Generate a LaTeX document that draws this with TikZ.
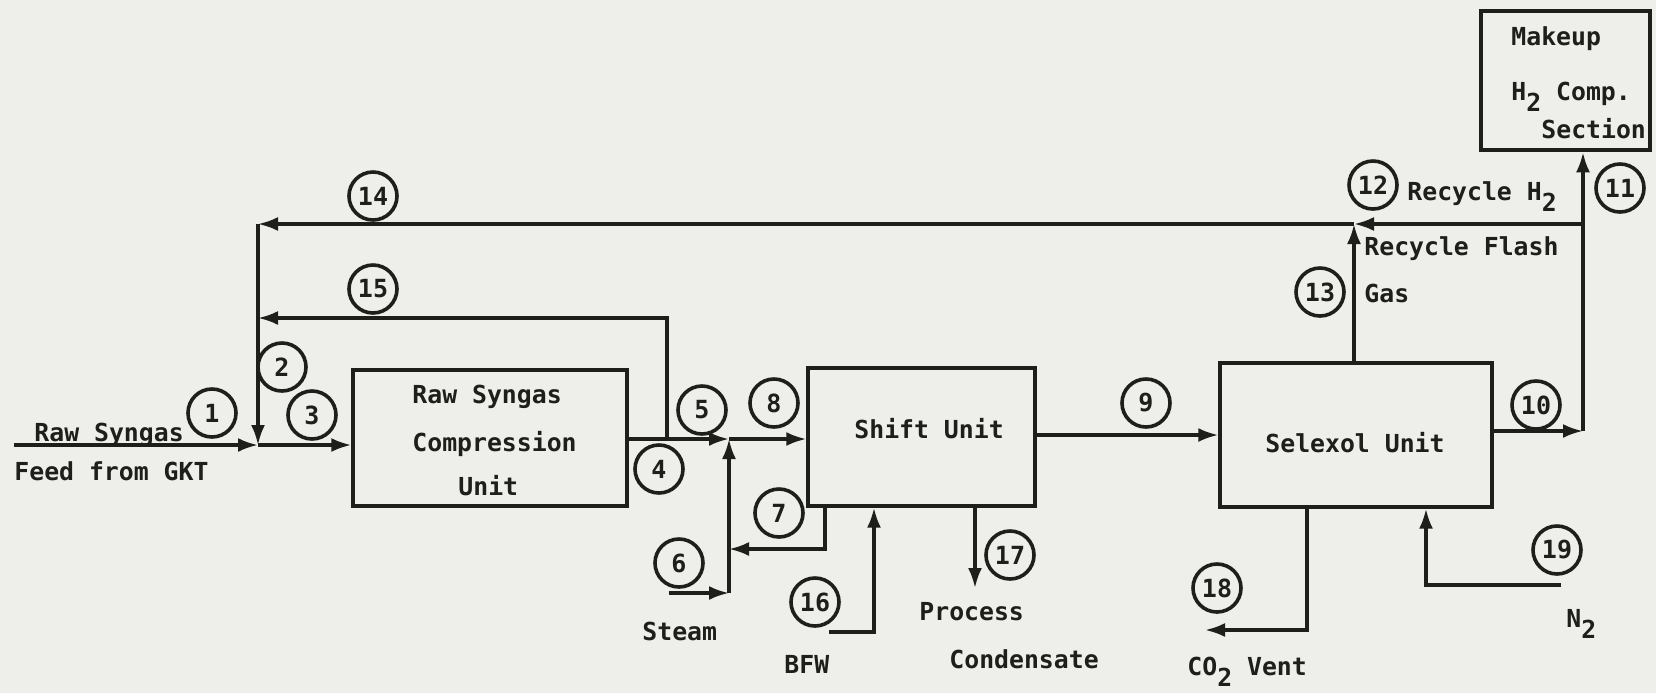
\documentclass[tikz,border=0pt]{standalone}
\usepackage{fontspec}
\newfontfamily\tw{DejaVu Sans Mono}[BoldFont={DejaVu Sans Mono Bold}]
\usetikzlibrary{arrows.meta}
\definecolor{ink}{RGB}{30,30,26}
\definecolor{paper}{RGB}{238,238,234}
\newcommand{\lowtwo}{\raisebox{-5.5pt}{2}}
\tikzset{
  line/.style={draw=ink, line width=1.6pt},
  flow/.style={line, -{Latex[length=10pt,width=7pt]}},
  unitbox/.style={draw=ink, line width=1.7pt, rectangle, inner sep=0pt},
  tag/.style={draw=ink, line width=1.8pt, circle, minimum size=24pt, inner sep=0pt, text=ink, font=\tw\bfseries\fontsize{12.5}{14}\selectfont},
  lbl/.style={anchor=base west, inner sep=0pt, text=ink, font=\tw\bfseries\fontsize{12.4}{14}\selectfont}
}
\begin{document}
\begin{tikzpicture}[x=0.5pt,y=-0.5pt]
\fill[paper] (0,0) rectangle (1656,693);
\useasboundingbox (0,0) rectangle (1656,693);

% unit boxes
\node[unitbox, minimum width=137pt, minimum height=68pt] (comp) at (490,438) {};
\node[unitbox, minimum width=113.5pt, minimum height=69pt] (shift) at (921.5,437) {};
\node[unitbox, minimum width=136pt, minimum height=72pt] (sel) at (1356,435) {};
\node[unitbox, line width=2.3pt, minimum width=84.5pt, minimum height=69.5pt] (makeup) at (1565.5,80.5) {};

% box texts
\node[lbl] (t1) at (412,403) {Raw Syngas};
\node[lbl] (t2) at (412,451) {Compression};
\node[lbl] (t3) at (458,495) {Unit};
\node[lbl] (t4) at (854,438) {Shift Unit};
\node[lbl] (t5) at (1265,452) {Selexol Unit};
\node[lbl] (t6) at (1511,45) {Makeup};
\node[lbl] (t7) at (1511,100) {H\lowtwo{} Comp.};
\node[lbl] (t8) at (1541,138) {Section};

% stream texts
\node[lbl] (s1a) at (34,441) {Raw Syngas};
\node[lbl] (s1b) at (14,480) {Feed from GKT};
\node[lbl] (s6t) at (642,640) {Steam};
\node[lbl] (s16t) at (784,673) {BFW};
\node[lbl] (s17a) at (919,620) {Process};
\node[lbl] (s17b) at (949,668) {Condensate};
\node[lbl] (s18t) at (1187,675) {CO\lowtwo{} Vent};
\node[lbl] (s19t) at (1566,627) {N\lowtwo};
\node[lbl] (s12t) at (1407,200) {Recycle H\lowtwo};
\node[lbl] (s13a) at (1364,255) {Recycle Flash};
\node[lbl] (s13b) at (1364,302) {Gas};

% coordinates
\coordinate (feed) at (14,445);
\coordinate (j1) at (258,445);
\coordinate (j14) at (258,224);
\coordinate (j15) at (258,318);
\coordinate (j4) at (667,439);
\coordinate (c15) at (667,318);
\coordinate (j5) at (729,439);
\coordinate (s6) at (669,593);
\coordinate (c6) at (729,593);
\coordinate (c7) at (825,549);
\coordinate (j7) at (729,549);
\coordinate (s16) at (829,632);
\coordinate (c16) at (874,632);
\coordinate (e17) at (975,588);
\coordinate (c10) at (1583,431);
\coordinate (j12) at (1583,224);
\coordinate (j13) at (1354,224);
\coordinate (c18) at (1307,630);
\coordinate (e18) at (1205,630);
\coordinate (s19) at (1561,585);
\coordinate (c19) at (1426,585);

% connectors
\draw[flow] (feed) -- (j1);
\draw[flow] (j1) -- (comp.west |- j1);
\draw[flow] (j14) -- (j1);
\draw[line] (comp.east |- j4) -- (j4);
\draw[flow] (j4) -- (c15) -- (j15);
\draw[flow] (j4) -- (j5);
\draw[flow] (j5) -- (shift.west |- j5);
\draw[flow] (s6) -- (c6);
\draw[flow] (c6) -- (j5);
\draw[flow] (shift.south -| c7) -- (c7) -- (j7);
\draw[flow] (s16) -- (c16) -- (shift.south -| c16);
\draw[flow] (shift.south -| e17) -- (e17);
\draw[flow] (shift.east |- sel.west) -- (sel.west);
\draw[flow] (sel.east |- c10) -- (c10);
\draw[flow] (c10) -- (makeup.south -| c10);
\draw[flow] (j12) -- (j13);
\draw[flow] (j13) -- (j14);
\draw[flow] (sel.north -| j13) -- (j13);
\draw[flow] (sel.south -| c18) -- (c18) -- (e18);
\draw[flow] (s19) -- (c19) -- (sel.south -| c19);

% stream number tags
\node[tag] (n1) at (212,413) {1};
\node[tag] (n2) at (282,367) {2};
\node[tag] (n3) at (312,415) {3};
\node[tag] (n4) at (659,469) {4};
\node[tag] (n5) at (702,410) {5};
\node[tag] (n6) at (679,563) {6};
\node[tag] (n7) at (779,513) {7};
\node[tag] (n8) at (774,403) {8};
\node[tag] (n9) at (1146,403) {9};
\node[tag] (n10) at (1536,405) {10};
\node[tag] (n11) at (1620,188) {11};
\node[tag] (n12) at (1373,185) {12};
\node[tag] (n13) at (1320,292) {13};
\node[tag] (n14) at (373,196) {14};
\node[tag] (n15) at (373,289) {15};
\node[tag] (n16) at (815,602) {16};
\node[tag] (n17) at (1010,555) {17};
\node[tag] (n18) at (1217,588) {18};
\node[tag] (n19) at (1557,550) {19};
\end{tikzpicture}
\end{document}
